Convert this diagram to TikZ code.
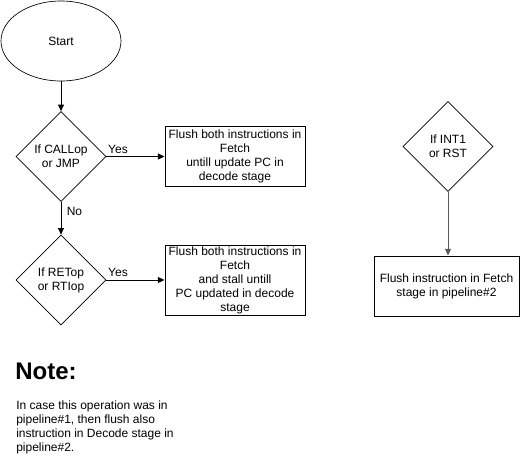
\documentclass[tikz,border=0pt]{standalone}
\usepackage{fontspec}
\setmainfont{Liberation Sans}
\usetikzlibrary{shapes.geometric, arrows.meta}

\begin{document}
\begin{tikzpicture}[x=0.75pt, y=-0.75pt, font=\fontsize{9}{10.5}\selectfont,
    flow/.style={-{Triangle[length=5pt, width=4.5pt]}, line width=0.75pt},
    decision/.style={draw, diamond, aspect=1, line width=0.5pt, minimum width=67.5pt, minimum height=67.5pt, inner sep=0pt, align=center},
    action/.style={draw, rectangle, line width=0.75pt, inner sep=0pt, align=center}]
    \useasboundingbox (0,0) rectangle (521,472);

    % Start
    \node[draw, ellipse, line width=0.5pt, minimum width=90pt, minimum height=60pt] (start) at (61,41) {Start};

    % Decision: CALL or JMP
    \node[decision] (callop) at (61,156.5) {If CALLop\\or JMP};

    % Flush for CALL / JMP
    \node[action, minimum width=105pt, minimum height=45pt] (flushcall) at (235,156.5) {Flush both instructions in\\Fetch\\untill update PC in\\decode stage};

    % Decision: RET or RTI
    \node[decision] (retop) at (61,280) {If RETop\\or RTIop};

    % Flush and stall for RET / RTI
    \node[action, minimum width=105pt, minimum height=52.5pt] (flushret) at (235,280) {Flush both instructions in\\Fetch\\and stall untill\\PC updated in decode\\stage};

    % Decision: INT1 or RST
    \node[decision] (intop) at (448,146.5) {If INT1\\or RST};

    % Flush for INT1 / RST
    \node[action, minimum width=108.75pt, minimum height=45pt] (flushint) at (446.5,286) {Flush instruction in Fetch\\stage in pipeline\#2};

    % Note
    \node[anchor=west, inner sep=0pt, font=\fontsize{18}{20}\bfseries] (note) at (15,371) {Note:};
    \node[anchor=north west, inner sep=0pt, align=left, font=\fontsize{9}{10.5}\selectfont] (notetext) at (16,401) {In case this operation was in\\pipeline\#1, then flush also\\instruction in Decode stage in\\pipeline\#2.};

    % Arrows connecting components
    \draw[flow] (start) -- (callop);
    \draw[flow] (callop) -- node[pos=0.2, above, inner sep=2pt] {Yes} (flushcall);
    \draw[flow] (callop) -- node[pos=0.3, right, inner sep=4pt] {No} (retop);
    \draw[flow] (retop) -- node[pos=0.2, above, inner sep=2pt] {Yes} (flushret);
    \draw[flow, draw=black!65, fill=black] (intop) -- (intop |- flushint.north);
\end{tikzpicture}
\end{document}
